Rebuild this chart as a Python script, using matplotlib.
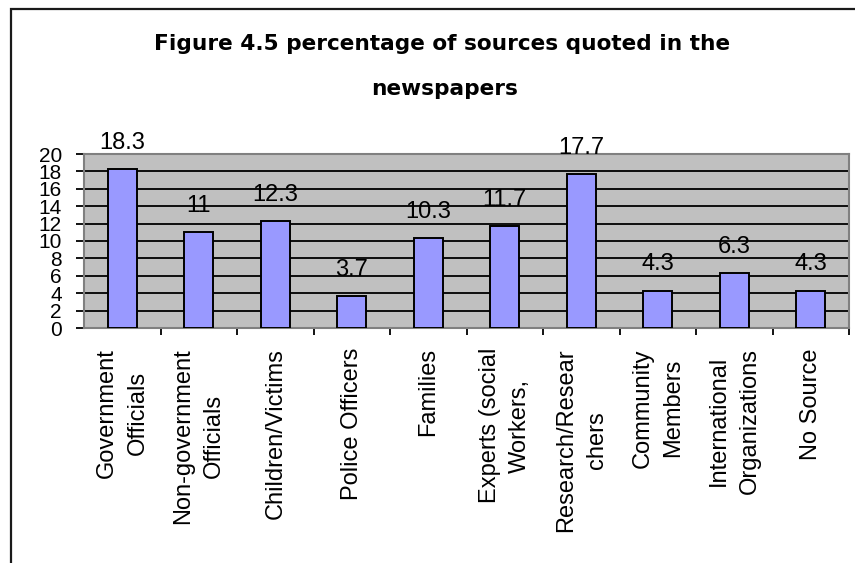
import matplotlib
matplotlib.use("Agg")
import matplotlib.pyplot as plt
from matplotlib.patches import Rectangle

categories = ["Government\nOfficials", "Non-government\nOfficials", "Children/Victims",
              "Police Officers", "Families", "Experts (social\nWorkers,",
              "Research/Resear\nchers", "Community\nMembers", "International\nOrganizations",
              "No Source"]
values = [18.3, 11, 12.3, 3.7, 10.3, 11.7, 17.7, 4.3, 6.3, 4.3]
value_labels = ["18.3", "11", "12.3", "3.7", "10.3", "11.7", "17.7", "4.3", "6.3", "4.3"]
yticks = list(range(0, 21, 2))
title_lines = ["Figure 4.5 percentage of sources quoted in the", "newspapers"]

plt.rcParams["font.family"] = ["Liberation Sans", "DejaVu Sans"]

fig = plt.figure(figsize=(8.55, 5.63), dpi=100)
ax = fig.add_axes([84 / 855, 1 - 328 / 563, (849 - 84) / 855, (328 - 154) / 563])

# outer chart frame (runs off the right and bottom edge)
fig.patches.append(Rectangle((11 / 855, -0.1), 1.1, 1 - 9 / 563 + 0.1, transform=fig.transFigure,
                             fill=False, edgecolor="#1a1a1a", linewidth=1.6))

ax.set_facecolor("#C0C0C0")
for s in ax.spines.values():
    s.set_color("#808080")
    s.set_linewidth(1.5)

x = list(range(len(values)))
ax.set_axisbelow(True)
ax.yaxis.grid(True, color="black", linewidth=1.3)
ax.bar(x, values, width=0.38, color="#9999FF", edgecolor="black", linewidth=1.4, zorder=3)

for xi, v, lab in zip(x, values, value_labels):
    ax.annotate(lab, (xi, v), xytext=(0, 14.5), textcoords="offset points",
                ha="center", va="baseline", fontsize=17, annotation_clip=False)

ax.set_xlim(-0.5, len(values) - 0.5)
ax.set_ylim(0, 20)
ax.set_yticks(yticks)
ax.set_yticklabels([str(t) for t in yticks], fontsize=15)
ax.tick_params(axis="y", direction="out", length=6, width=1.3, color="black", pad=10)

ax.set_xticks([i + 0.5 for i in x[:-1]] + [len(values) - 0.5])
ax.set_xticklabels([])
ax.tick_params(axis="x", direction="out", length=5, width=1.3, color="black")
for xi, lab in zip(x, categories):
    ax.text(xi, -0.115, lab, transform=ax.get_xaxis_transform(), rotation=90,
            ha="center", va="top", multialignment="center", fontsize=17, linespacing=1.5)

# title: wide bold face, two lines
fig.text(442 / 855, 1 - 50 / 563, title_lines[0], ha="center", va="baseline",
         fontsize=15.6, fontweight="bold", family="DejaVu Sans")
fig.text(445 / 855, 1 - 95 / 563, title_lines[1], ha="center", va="baseline",
         fontsize=15.6, fontweight="bold", family="DejaVu Sans")

fig.savefig("out.png", dpi=100)
